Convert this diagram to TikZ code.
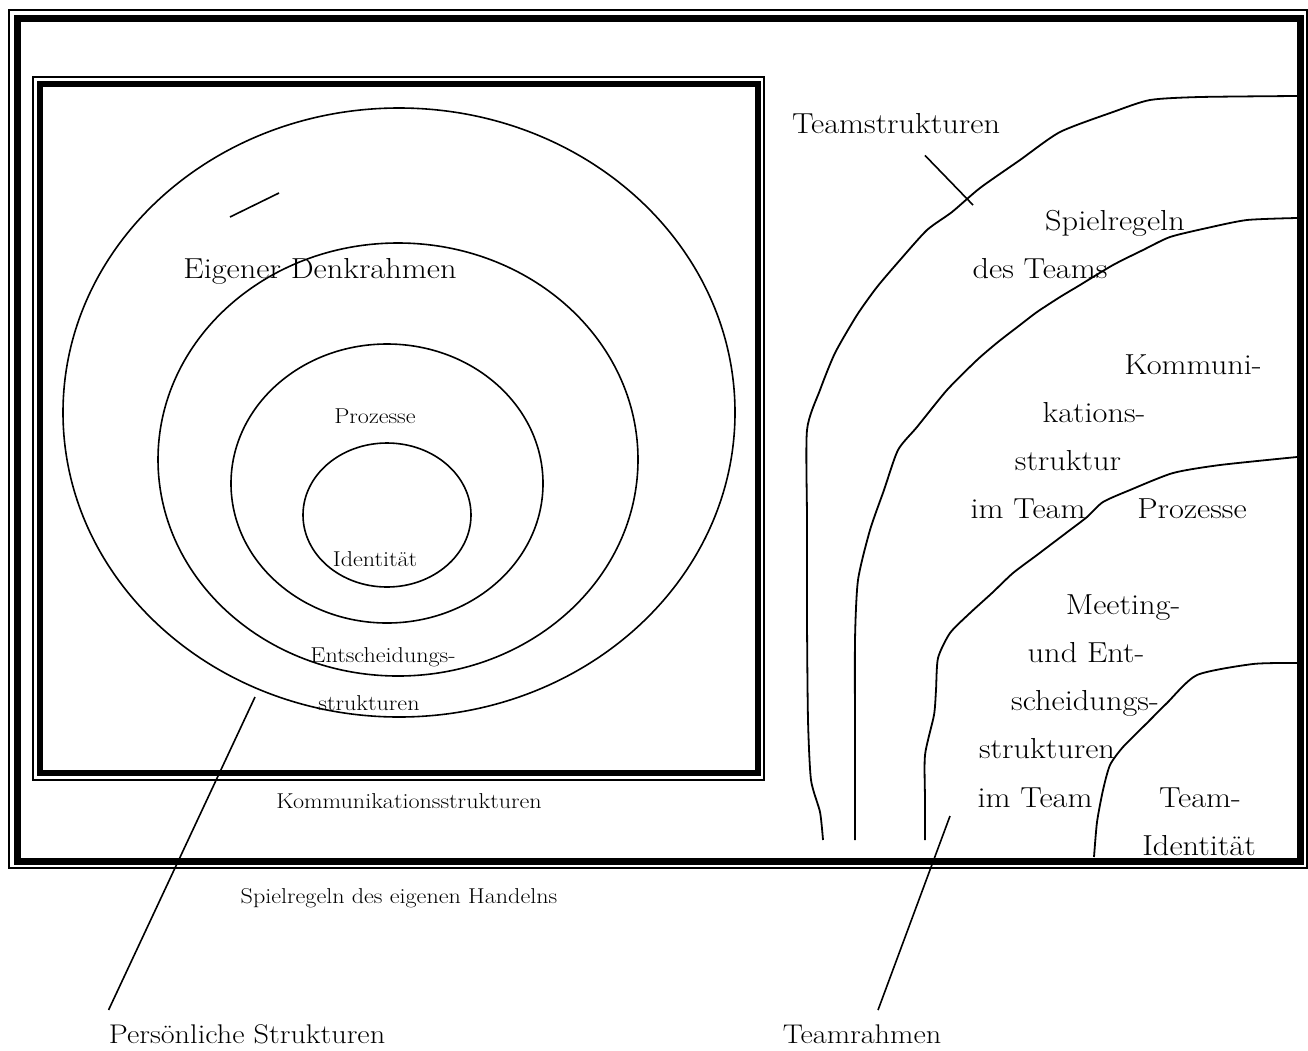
\documentclass[tikz,border=0pt]{standalone}
\usepackage{fontspec}
\setmainfont{Latin Modern Roman}[FakeStretch=1.12]

\begin{document}
\begin{tikzpicture}[x=1pt, y=-1pt,
    bigtext/.style={font=\fontsize{28.9}{33}\selectfont, inner sep=0pt, anchor=base},
    smalltext/.style={font=\fontsize{21.5}{25}\selectfont, inner sep=0pt, anchor=base},
    captiontext/.style={font=\fontsize{27}{31}\selectfont, inner sep=0pt, anchor=base},
    thinline/.style={line width=1.6pt},
    wigglyline/.style={line width=1.8pt, smooth, tension=0.4}]

    \useasboundingbox (0,0) rectangle (1308,1050);

    % Outer frame (thin + thick)
    \draw[line width=1.4pt] (9,10) rectangle (1307,868);
    \draw[line width=7pt] (17,18) rectangle (1300,861);

    % Inner frame (thin + thick)
    \draw[line width=1.4pt] (33,77) rectangle (764,780);
    \draw[line width=6pt] (40,84) rectangle (757.5,773);

    % Nested ellipses
    \draw[thinline] (399,412.5) ellipse [x radius=336pt, y radius=304.5pt];
    \draw[thinline] (398,459.5) ellipse [x radius=240pt, y radius=216.5pt];
    \draw[thinline] (387,483.5) ellipse [x radius=156pt, y radius=139.5pt];
    \draw[thinline] (387,515) ellipse [x radius=84pt, y radius=72pt];

    % Labels left part
    \node[bigtext] (denk) at (320,278) {Eigener Denkrahmen};
    \node[smalltext] (prozL) at (375,423) {Prozesse};
    \node[smalltext] (identL) at (375,566) {Identit\"at};
    \node[smalltext] (entsch) at (383,662) {Entscheidungs-};
    \node[smalltext] (strukL) at (369,710) {strukturen};
    \node[smalltext] (kommL) at (409,808) {Kommunikationsstrukturen};
    \node[smalltext] (spielL) at (399,903) {Spielregeln des eigenen Handelns};
    \node[captiontext] (persoenlich) at (247,1043) {Pers\"onliche Strukturen};

    % Short stroke above Eigener Denkrahmen
    \coordinate (denkA) at (230,217);
    \coordinate (denkB) at (279,193);
    \draw[thinline] (denkA) -- (denkB);

    % Pointer to Persoenliche Strukturen
    \coordinate (persTop) at (255,697);
    \draw[thinline] (persTop) -- ([yshift=14pt]persoenlich.north west);

    % Team curves (right part)
    \draw[wigglyline] plot coordinates {(1297,96) (1200,97) (1150,100) (1113,112)
        (1060,132) (1020,160) (980,188) (952,212) (927,230) (900,260) (877,287)
        (857,315) (835,353) (820,390) (807,430) (807,520) (807,620) (808,720)
        (811,780) (820,812) (823,840)};
    \draw[wigglyline] plot coordinates {(1297,218) (1247,220) (1207,228) (1170,237)
        (1143,250) (1113,265) (1080,285) (1060,297) (1037,312) (1020,325)
        (998,342) (977,360) (947,390) (917,427) (898,450) (884,490) (870,530)
        (858,580) (855,640) (855,740) (855,840)};
    \draw[wigglyline] plot coordinates {(1297,457) (1220,465) (1173,473) (1130,490)
        (1103,502) (1087,517) (1070,530) (1037,555) (1013,573) (992,593)
        (970,613) (950,633) (938,658) (936,690) (934,715) (925,755) (925,800)
        (925,840)};
    \draw[wigglyline] plot coordinates {(1297,663) (1253,664) (1197,675)
        (1167,703) (1147,723) (1123,747) (1110,765) (1103,790) (1097,822)
        (1094,857)};

    % Labels right part
    \node[bigtext] (teamstr) at (896,133) {Teamstrukturen};
    \node[bigtext] (spielR1) at (1115,230) {Spielregeln};
    \node[bigtext] (spielR2) at (1040,278) {des Teams};
    \node[bigtext] (kommR1) at (1193,374) {Kommuni-};
    \node[bigtext] (kommR2) at (1094,422) {kations-};
    \node[bigtext] (kommR3) at (1068,470) {struktur};
    \node[bigtext] (kommR4) at (1028,518) {im Team};
    \node[bigtext] (prozR) at (1192,518) {Prozesse};
    \node[bigtext] (meet1) at (1123,614) {Meeting-};
    \node[bigtext] (meet2) at (1086,662) {und Ent-};
    \node[bigtext] (meet3) at (1085,710) {scheidungs-};
    \node[bigtext] (meet4) at (1047,758) {strukturen};
    \node[bigtext] (meet5) at (1035,807) {im Team};
    \node[bigtext] (ident1) at (1200,807) {Team-};
    \node[bigtext] (ident2) at (1199,855) {Identit\"at};
    \node[captiontext] (teamrahmen) at (862,1043) {Teamrahmen};

    % Pointers
    \coordinate (teamstrEnd) at (973,205);
    \draw[thinline] ([xshift=29pt, yshift=-22pt]teamstr.south) -- (teamstrEnd);
    \coordinate (rahmenTop) at (950,816);
    \draw[thinline] (rahmenTop) -- ([xshift=16pt, yshift=14pt]teamrahmen.north);
\end{tikzpicture}
\end{document}
